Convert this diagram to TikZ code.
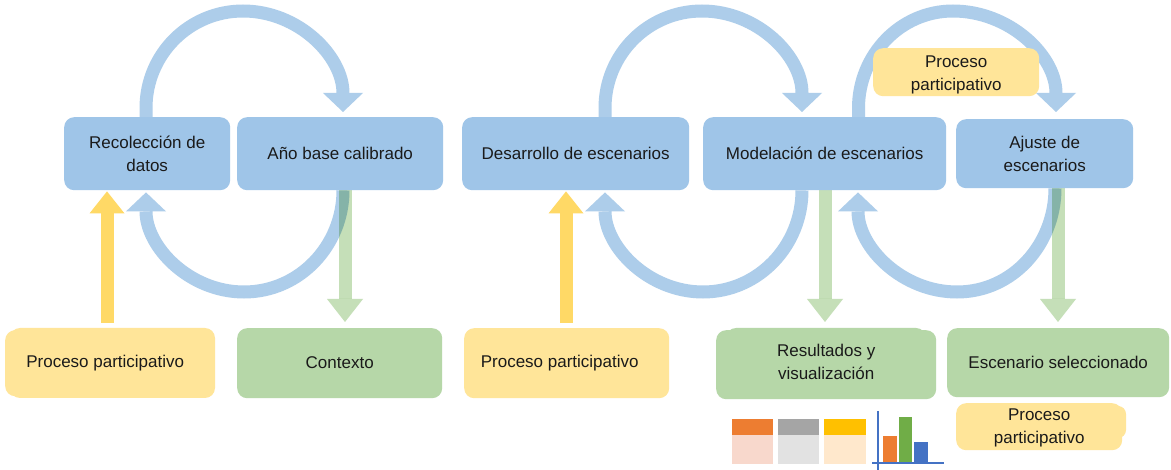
\documentclass[tikz,border=0pt]{standalone}
\usepackage{fontspec}
\setmainfont{Liberation Sans}
\usetikzlibrary{arrows.meta,calc}
\definecolor{bbox}{HTML}{9FC5E8}
\definecolor{gbox}{HTML}{B6D7A8}
\definecolor{ybox}{HTML}{FFE599}
\definecolor{yarrow}{HTML}{FFD966}
\definecolor{barc}{HTML}{ADCDEA}
\definecolor{garrow}{HTML}{C5DFB8}
\definecolor{inkc}{HTML}{1A1A1A}
\definecolor{corange}{HTML}{ED7D31}
\definecolor{corangel}{HTML}{F8D8CC}
\definecolor{cgray}{HTML}{A5A5A5}
\definecolor{cgrayl}{HTML}{E2E2E2}
\definecolor{cyel}{HTML}{FFC000}
\definecolor{cyell}{HTML}{FFE8CC}
\definecolor{cgreen}{HTML}{70AD47}
\definecolor{cblue}{HTML}{4472C4}
\tikzset{
  x=1pt,y=-1pt,
  boxbase/.style={rounded corners=10pt,inner sep=0pt,align=center,text=inkc,font=\fontsize{17}{23}\selectfont,anchor=north west},
  bluebox/.style={boxbase,fill=bbox},
  greenbox/.style={boxbase,fill=gbox},
  yellowbox/.style={boxbase,fill=ybox},
  looparrow/.style={draw=barc,line width=13pt,-{Triangle[width=40pt,length=19pt,line width=0pt]}},
  greenarrow/.style={draw=garrow,line width=13pt,blend mode=multiply,-{Triangle[width=36pt,length=23pt,line width=0pt]}},
  yellowarrow/.style={draw=yarrow,line width=13pt,-{Triangle[width=35pt,length=22pt,line width=0pt]}},
}
\newcommand{\bx}[7]{\node[#1,minimum width=#5pt-#3pt,minimum height=#6pt-#4pt] (#2) at (#3,#4) {#7};}
\pgfdeclarelayer{front}\pgfsetlayers{main,front}
\begin{document}
\begin{tikzpicture}
\useasboundingbox (0,0) rectangle (1171,470);
\fill[white] (0,0) rectangle (1171,470);
\begin{pgfonlayer}{front}
\fill[ybox,rounded corners=10pt] (10,328) rectangle (215,398);
\fill[gbox,rounded corners=10pt] (726,328) rectangle (926,396);
\fill[ybox,rounded corners=8pt] (1040,406) rectangle (1126,438);
\bx{bluebox}{rec}{64}{117}{230}{190}{Recolección de\\datos}
\bx{bluebox}{ano}{237}{117}{443}{190}{Año base calibrado}
\bx{bluebox}{dev}{462}{117}{689}{190}{Desarrollo de escenarios}
\bx{bluebox}{mod}{703}{117}{946}{190}{Modelación de escenarios}
\bx{bluebox}{aju}{956}{119}{1133}{188}{Ajuste de\\escenarios}
\bx{yellowbox}{pa}{5}{330}{205}{396}{Proceso participativo}
\bx{greenbox}{ctx}{237}{328}{442}{398}{Contexto\rule[-2pt]{0pt}{2pt}}
\bx{yellowbox}{pb}{464}{328}{669}{398}{Proceso participativo\hspace*{14pt}}
\bx{greenbox}{res}{716}{330}{936}{399}{Resultados y\\visualización\rule[-5pt]{0pt}{5pt}}
\bx{greenbox}{esc}{947}{328}{1169}{397}{Escenario seleccionado}
\bx{yellowbox}{pc}{873}{48}{1039}{96}{\rule{0pt}{18pt}Proceso\\participativo}
\bx{yellowbox}{pd}{956}{403}{1122}{450}{\rule{0pt}{14pt}Proceso\\participativo}
\end{pgfonlayer}
% loops
\coordinate (t1) at (243,11); \coordinate (b1) at (244,292);
\coordinate (t2) at (702,11); \coordinate (b2) at (703,292);
\coordinate (t3) at (953,11); \coordinate (b3) at (957,292);
\draw[looparrow] ($(rec.north west)+(82,0)$) -- ($(rec.north west)+(82,-9)$) to[out=90,in=180] (t1) to[out=0,in=90] ($(ano.north west)+(106,-5)$);
\draw[looparrow] ($(ano.south west)+(106,0)$) to[out=270,in=0] (b1) to[out=180,in=270] ($(rec.south west)+(82,2)$);
\draw[looparrow] ($(dev.north west)+(143,0)$) -- ($(dev.north west)+(143,-9)$) to[out=90,in=180] (t2) to[out=0,in=90] ($(mod.north west)+(99,-5)$);
\draw[looparrow] ($(mod.south west)+(99,0)$) to[out=270,in=0] (b2) to[out=180,in=270] ($(dev.south west)+(143,2)$);
\draw[looparrow] ($(mod.north west)+(155.5,0)$) -- ($(mod.north west)+(155.5,-9)$) to[out=90,in=180] (t3) to[out=0,in=90] ($(aju.north west)+(100,-7)$);
\draw[looparrow] ($(aju.south west)+(99,0)$) to[out=270,in=0] (b3) to[out=180,in=270] ($(mod.south west)+(155,2)$);
% straight arrows
\draw[yellowarrow] ($(pa.north west)+(102,-7)$) -- ($(rec.south west)+(43,1)$);
\draw[yellowarrow] ($(pb.north west)+(102,-5)$) -- ($(dev.south west)+(104,1)$);
\draw[greenarrow] ($(ano.south west)+(108,0)$) -- ($(ctx.north west)+(108,-6)$);
\draw[greenarrow] ($(mod.south west)+(122,0)$) -- ($(res.north west)+(109,-8)$);
\draw[greenarrow] ($(aju.south west)+(102,0)$) -- ($(esc.north west)+(111,-6)$);
% small tables
\fill[corange] (732,419) rectangle (773,435);
\fill[corangel] (732,435) rectangle (773,464);
\fill[cgray] (778,419) rectangle (819,435);
\fill[cgrayl] (778,435) rectangle (819,464);
\fill[cyel] (824,419) rectangle (866,435);
\fill[cyell] (824,435) rectangle (866,464);
% small chart
\fill[corange] (883,436) rectangle (897,463);
\fill[cgreen] (899,417) rectangle (912,463);
\fill[cblue] (914,442) rectangle (928,463);
\draw[cblue,line width=1.3pt] (878,411) -- (878,470);
\draw[cblue,line width=1.3pt] (872,463) -- (944,463);
\end{tikzpicture}
\end{document}
